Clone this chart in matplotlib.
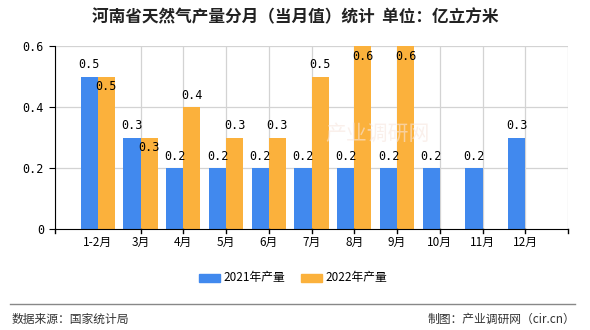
import matplotlib
matplotlib.use("Agg")
import matplotlib.pyplot as plt
import numpy as np

plt.rcParams["font.family"] = ["Noto Sans CJK SC", "DejaVu Sans"]

# 数据
months = ["1-2月", "3月", "4月", "5月", "6月", "7月", "8月", "9月", "10月", "11月", "12月"]
vals_2021 = [0.5, 0.3, 0.2, 0.2, 0.2, 0.2, 0.2, 0.2, 0.2, 0.2, 0.3]
vals_2022 = [0.5, 0.3, 0.4, 0.3, 0.3, 0.5, 0.6, 0.6]
inside_2022 = [True, True, False, False, False, False, True, True]  # 标签放在柱内
y_ticks = [0, 0.2, 0.4, 0.6]
y_tick_labels = ["0", "0.2", "0.4", "0.6"]

blue = "#4189EE"
orange = "#FBB13C"
mono = ["DejaVu Sans Mono"]

fig = plt.figure(figsize=(5.9, 3.3), dpi=100)
ax = fig.add_axes([55 / 590, 101 / 330, 513 / 590, 183 / 330])

x1 = np.arange(len(vals_2021))
x2 = np.arange(len(vals_2022))
w = 0.4
ax.bar(x1 - w / 2, vals_2021, width=w, color=blue, zorder=3)
ax.bar(x2 + w / 2, vals_2022, width=w, color=orange, zorder=3)

for xi, v in zip(x1, vals_2021):
    ax.text(xi - w / 2, v + 0.018, f"{v:.1f}", ha="center", va="bottom",
            fontsize=8.5, family=mono, zorder=4)
for xi, v, inside in zip(x2, vals_2022, inside_2022):
    y = v - 0.055 if inside else v + 0.018
    ax.text(xi + w / 2, y, f"{v:.1f}", ha="center", va="bottom",
            fontsize=8.5, family=mono, zorder=4)

ax.set_xlim(-1, len(months))
ax.set_ylim(0, 0.6)

# 网格线
for gx in [-1] + list(range(1, len(months) + 1)):
    ax.axvline(gx, color="#D3D3D3", lw=0.9, zorder=1)
for gy in y_ticks[1:]:
    ax.axhline(gy, color="#D3D3D3", lw=0.9, zorder=1)

ax.set_yticks(y_ticks)
ax.set_yticklabels(y_tick_labels, family=mono, fontsize=8.5)
ax.set_xticks(x1)
ax.set_xticklabels(months, fontsize=8.5)
ax.tick_params(axis="x", length=0, pad=5)
ax.tick_params(axis="y", length=4, pad=4, color="black")
for t in [-1] + list(range(1, len(months) + 1)):
    ax.plot([t, t], [0, -0.012], color="black", lw=1, clip_on=False, zorder=5)

for s in ["top", "right"]:
    ax.spines[s].set_visible(False)
ax.spines["left"].set_color("black")
ax.spines["bottom"].set_color("black")
ax.spines["left"].set_zorder(5)
ax.spines["bottom"].set_zorder(5)

# 水印
fig.text(378 / 590, 1 - 134 / 330, "产业调研网", ha="center", va="center",
         fontsize=15, color="#F7E6DF", alpha=0.6, zorder=2)

# 标题
fig.text(0.5, 1 - 17 / 330, "河南省天然气产量分月（当月值）统计  单位：亿立方米",
         ha="center", va="center", fontsize=12, fontweight="bold", color="#222222")

# 图例
for px, color, label in [(199, blue, "2021年产量"), (301, orange, "2022年产量")]:
    fig.patches.append(plt.Rectangle((px / 590, 1 - 282 / 330), 21 / 590, 8 / 330,
                                     transform=fig.transFigure, color=color))
    fig.text((px + 24) / 590, 1 - 278 / 330, label, ha="left", va="center", fontsize=8.5)

# 分隔线与底部
fig.add_artist(plt.Line2D([10 / 590, 575 / 590], [1 - 303.5 / 330] * 2,
                          transform=fig.transFigure, color="#888888", lw=1))
fig.text(12 / 590, 1 - 319 / 330, "数据来源：国家统计局", ha="left", va="center",
         fontsize=8.5, color="#333333")
fig.text(575 / 590, 1 - 319 / 330, "制图：产业调研网（cir.cn）", ha="right", va="center",
         fontsize=8.5, color="#333333")

fig.savefig("out.png", dpi=100, facecolor="white")
